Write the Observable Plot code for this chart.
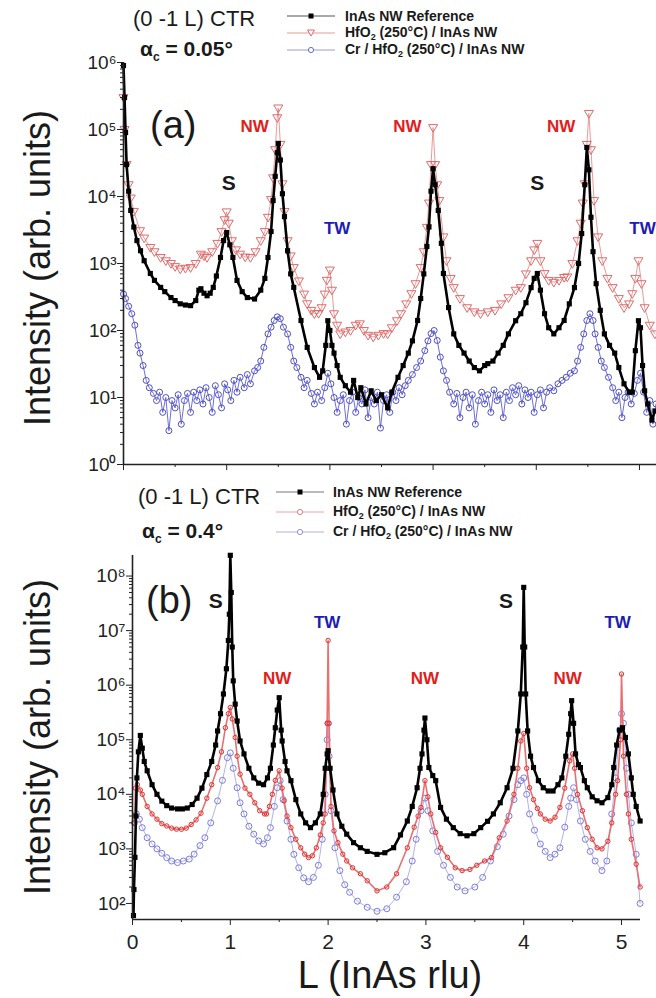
<!DOCTYPE html>
<html><head><meta charset="utf-8">
<script src="https://cdn.jsdelivr.net/npm/d3@7"></script>
<script src="https://cdn.jsdelivr.net/npm/@observablehq/plot@0.6"></script>
<style>
body{margin:0;background:#fff;}
#fig{position:relative;width:656px;height:998px;font-family:"Liberation Sans",Arial,Helvetica,sans-serif;overflow:hidden;background:#fff}
#fig svg{position:absolute;left:0;overflow:visible}
.t{position:absolute;white-space:nowrap;color:#1a1a1a;line-height:1;transform:translateY(-50%)}
.rot{position:absolute;white-space:nowrap;color:#1a1a1a;line-height:1;transform:translate(-50%,-50%) rotate(-90deg)}
.ctr{position:absolute;white-space:nowrap;color:#1a1a1a;line-height:1;transform:translate(-50%,-50%)}
.leg{position:absolute;white-space:nowrap;font-weight:bold;font-size:14px;color:#1a1a1a;line-height:1;transform:translateY(-50%)}
.leg sub{font-size:9px;vertical-align:-3px}
.sw{position:absolute;transform:translateY(-50%)}
</style></head><body><div id="fig"></div>
<script>
// ---------- data: panel (a), alpha_c = 0.05 deg ----------
const a_ref = [[0,9e5],[0.01,3e5],[0.02,9e4],[0.03,3e4],[0.05,1.2e4],[0.07,6200],[0.1,3500],[0.13,2200],[0.165,1550],[0.2,1100],[0.26,710],[0.3,560],[0.36,440],[0.4,380],[0.46,310],[0.5,280],[0.55,250],[0.6,240],[0.65,235],[0.7,280],[0.73,400],[0.75,420],[0.78,360],[0.81,330],[0.84,360],[0.87,440],[0.9,650],[0.94,1230],[0.97,2200],[1.0,2900],[1.03,1900],[1.06,1230],[1.1,560],[1.15,380],[1.2,310],[1.27,295],[1.33,400],[1.37,600],[1.4,1230],[1.43,3000],[1.45,8700],[1.47,2e4],[1.49,4.5e4],[1.5,6.2e4],[1.52,3.5e4],[1.54,1.1e4],[1.56,5000],[1.59,1550],[1.62,700],[1.65,440],[1.72,141],[1.78,56],[1.85,28],[1.9,20],[1.93,25],[1.96,60],[1.98,140],[2.0,100],[2.02,60],[2.04,46],[2.07,30],[2.1,20],[2.15,15],[2.2,12],[2.23,18],[2.27,10],[2.3,14],[2.35,8],[2.4,12.6],[2.45,9],[2.5,11],[2.56,7],[2.6,12],[2.66,20],[2.71,30],[2.76,46],[2.8,70],[2.85,141],[2.88,300],[2.91,700],[2.94,1800],[2.96,3500],[2.98,1.2e4],[3.0,2.6e4],[3.02,1.5e4],[3.05,6200],[3.08,2000],[3.1,710],[3.15,220],[3.2,89],[3.25,60],[3.3,46],[3.35,35],[3.4,28],[3.45,25],[3.5,30],[3.53,32],[3.58,35],[3.63,46],[3.68,60],[3.73,89],[3.8,140],[3.85,178],[3.9,260],[3.95,437],[3.98,600],[4.01,710],[4.04,400],[4.08,178],[4.12,110],[4.17,89],[4.22,110],[4.27,141],[4.32,250],[4.37,437],[4.41,1000],[4.44,2800],[4.47,1.5e4],[4.49,5.4e4],[4.51,2.5e4],[4.53,4900],[4.55,1500],[4.58,500],[4.62,200],[4.66,89],[4.71,60],[4.76,46],[4.8,28],[4.85,16],[4.9,12],[4.93,12],[4.96,50],[4.99,140],[5.01,110],[5.03,30],[5.05,12.6],[5.08,8],[5.12,4.6],[5.15,6.3]];
const a_hfo = [[0,3e5],[0.01,1e5],[0.03,3e4],[0.05,1.5e4],[0.07,9500],[0.1,6000],[0.16,3090],[0.2,2400],[0.26,1740],[0.3,1500],[0.36,1230],[0.41,1100],[0.46,1000],[0.5,900],[0.55,830],[0.6,850],[0.65,870],[0.7,1000],[0.75,1380],[0.78,1300],[0.81,1230],[0.86,1500],[0.91,2000],[0.95,3000],[0.98,4500],[1.0,5900],[1.02,4000],[1.05,2190],[1.09,1600],[1.13,1380],[1.18,1250],[1.23,1230],[1.28,1500],[1.33,2190],[1.37,3000],[1.4,4900],[1.43,9000],[1.45,1.9e4],[1.47,5e4],[1.49,1.5e5],[1.5,2.1e5],[1.52,6e4],[1.54,1.55e4],[1.56,6000],[1.59,2190],[1.62,1300],[1.65,870],[1.7,550],[1.75,350],[1.78,251],[1.82,200],[1.85,178],[1.89,180],[1.92,219],[1.95,350],[1.97,562],[2.0,800],[2.02,400],[2.04,178],[2.07,120],[2.1,89],[2.15,95],[2.2,100],[2.25,120],[2.29,126],[2.33,100],[2.37,85],[2.42,80],[2.47,85],[2.52,90],[2.56,89],[2.6,110],[2.65,140],[2.69,178],[2.74,250],[2.79,355],[2.83,500],[2.88,871],[2.91,1500],[2.94,3470],[2.96,8000],[2.98,3e4],[3.0,1.07e5],[3.02,3e4],[3.04,1.5e4],[3.06,8710],[3.1,2500],[3.13,1100],[3.17,600],[3.2,437],[3.26,300],[3.33,219],[3.4,190],[3.46,178],[3.53,190],[3.6,200],[3.66,250],[3.73,309],[3.8,400],[3.85,437],[3.9,700],[3.95,1100],[3.98,1600],[4.01,2000],[4.04,1100],[4.08,708],[4.12,560],[4.17,525],[4.22,560],[4.27,620],[4.3,631],[4.35,1000],[4.4,2190],[4.43,4000],[4.45,8000],[4.47,1.55e4],[4.49,6e4],[4.51,1.74e5],[4.53,5e4],[4.56,8710],[4.6,2500],[4.64,1100],[4.69,600],[4.74,437],[4.8,300],[4.85,219],[4.9,250],[4.93,355],[4.96,600],[4.99,1100],[5.02,500],[5.05,219],[5.1,120],[5.15,89]];
const a_cr = [[0,350],[0.02,300],[0.05,230],[0.08,178],[0.11,120],[0.14,60],[0.16,46],[0.19,30],[0.22,18],[0.25,14],[0.29,11.5],[0.32,9],[0.35,12],[0.38,6],[0.41,10],[0.44,3.2],[0.47,9],[0.5,7],[0.53,11],[0.56,4],[0.59,9],[0.62,11.5],[0.65,6],[0.68,12],[0.71,9],[0.74,13],[0.77,8],[0.8,14],[0.83,10],[0.86,6],[0.89,15],[0.92,11],[0.95,7],[0.98,16],[1.01,13],[1.04,9],[1.07,18],[1.1,12],[1.13,20],[1.17,14],[1.2,22],[1.23,16],[1.27,25],[1.3,28],[1.33,35],[1.36,56],[1.4,89],[1.43,112],[1.46,141],[1.49,160],[1.52,150],[1.55,112],[1.59,89],[1.62,56],[1.65,35],[1.68,28],[1.72,20],[1.75,14],[1.78,18],[1.82,11.5],[1.85,8],[1.88,12],[1.92,9],[1.95,14],[1.98,23],[2.01,16],[2.04,10],[2.07,6],[2.1,9],[2.13,11],[2.16,4],[2.19,9],[2.22,12],[2.25,6],[2.28,10],[2.31,8],[2.34,13],[2.37,5],[2.4,10],[2.43,8],[2.46,12],[2.49,3.5],[2.52,9],[2.55,11],[2.58,6],[2.61,12],[2.64,9],[2.67,14],[2.7,11],[2.73,15],[2.76,18],[2.8,22],[2.84,28],[2.88,35],[2.92,50],[2.95,70],[2.98,90],[3.01,100],[3.04,71],[3.07,40],[3.1,25],[3.13,18],[3.16,12],[3.2,8],[3.23,11.5],[3.26,5],[3.29,10],[3.32,12],[3.35,7],[3.38,11],[3.41,4],[3.44,9],[3.47,12],[3.5,8],[3.53,11],[3.56,6],[3.59,13],[3.62,9],[3.65,11],[3.68,5],[3.71,12],[3.74,9],[3.77,14],[3.8,11],[3.83,15],[3.86,8],[3.89,13],[3.92,10],[3.95,12],[3.98,6],[4.01,11],[4.04,13],[4.07,7],[4.1,12],[4.13,14],[4.17,12.6],[4.21,16],[4.25,18],[4.29,20],[4.33,23],[4.37,25],[4.4,35],[4.43,56],[4.46,89],[4.49,141],[4.52,178],[4.55,141],[4.57,89],[4.6,56],[4.63,35],[4.66,28],[4.7,20],[4.74,14],[4.77,9],[4.8,12],[4.83,5],[4.86,10],[4.89,12],[4.92,8],[4.95,11.5],[4.98,18],[5.01,23],[5.04,12],[5.07,6],[5.1,9],[5.13,4],[5.16,8]];
// ---------- data: panel (b), alpha_c = 0.4 deg ----------
const b_ref = [[0.01,60],[0.015,180],[0.025,700],[0.035,4000],[0.045,2e4],[0.06,6e4],[0.08,1.2e5],[0.1,7e4],[0.12,4e4],[0.15,2.7e4],[0.2,1.5e4],[0.25,1e4],[0.3,7500],[0.35,6200],[0.4,5600],[0.46,5400],[0.51,5400],[0.56,5600],[0.61,6500],[0.66,8500],[0.71,1.3e4],[0.76,2.3e4],[0.81,4e4],[0.85,8e4],[0.87,1.45e5],[0.9,3e5],[0.93,6.9e5],[0.96,2e6],[0.98,6.6e6],[0.99,2e7],[1.0,2.4e8],[1.01,5e7],[1.02,5e6],[1.03,1.2e6],[1.05,4.5e5],[1.07,2.2e5],[1.1,9.5e4],[1.14,5.5e4],[1.19,3e4],[1.24,2e4],[1.29,1.6e4],[1.34,1.5e4],[1.38,2e4],[1.41,3e4],[1.44,8e4],[1.46,1.66e5],[1.48,3.5e5],[1.5,5.9e5],[1.52,1.5e5],[1.53,9.5e4],[1.56,4e4],[1.58,2.7e4],[1.62,1.78e4],[1.67,8000],[1.72,4370],[1.77,3000],[1.82,2450],[1.87,3000],[1.92,4370],[1.95,1e4],[1.97,3e4],[1.99,5.5e4],[2.0,6.3e4],[2.02,3e4],[2.05,1.2e4],[2.09,4370],[2.14,2600],[2.19,1860],[2.26,1300],[2.33,1050],[2.4,900],[2.5,794],[2.58,850],[2.67,1050],[2.74,1800],[2.81,3240],[2.86,6000],[2.91,1.32e4],[2.94,3e4],[2.96,5.5e4],[2.98,1.5e5],[2.99,2.5e5],[3.01,1e5],[3.03,3.1e4],[3.07,2.2e4],[3.1,1.78e4],[3.15,5750],[3.21,3500],[3.28,2450],[3.35,1900],[3.42,1740],[3.49,1900],[3.56,2450],[3.63,3200],[3.69,4370],[3.76,7000],[3.83,1.32e4],[3.89,3e4],[3.94,1.45e5],[3.97,6.9e5],[3.99,5e6],[4.0,6.2e7],[4.01,5e6],[4.02,6.9e5],[4.04,1.45e5],[4.07,5e4],[4.1,3.1e4],[4.15,1.78e4],[4.2,1.32e4],[4.25,1.15e4],[4.3,1.15e4],[4.35,1.5e4],[4.39,2e4],[4.43,5e4],[4.46,1.26e5],[4.48,3e5],[4.49,5.2e5],[4.51,2e5],[4.53,5.5e4],[4.56,3.5e4],[4.58,3.1e4],[4.62,1.78e4],[4.65,1.32e4],[4.7,9000],[4.75,7600],[4.8,7000],[4.86,8700],[4.9,1.5e4],[4.92,3.1e4],[4.95,8e4],[4.98,1.5e5],[5.01,1.66e5],[5.04,1.1e5],[5.07,5.5e4],[5.1,2e4],[5.12,1e4],[5.15,6000],[5.19,3240]];
const b_hfo = [[0.02,3000],[0.03,1.3e4],[0.05,1.5e4],[0.08,1.2e4],[0.1,1e4],[0.15,6000],[0.2,4370],[0.25,3500],[0.3,2900],[0.35,2630],[0.4,2400],[0.45,2300],[0.5,2290],[0.55,2400],[0.6,2800],[0.65,3400],[0.7,4500],[0.76,8500],[0.81,1.5e4],[0.87,3.1e4],[0.91,6e4],[0.95,1.66e5],[0.98,3e5],[1.0,3.9e5],[1.02,2.4e5],[1.05,1.1e5],[1.07,5e4],[1.1,2.34e4],[1.15,1.3e4],[1.2,1e4],[1.25,7000],[1.3,5010],[1.35,4370],[1.37,4370],[1.4,6000],[1.43,1e4],[1.46,1.8e4],[1.5,2.7e4],[1.53,1.3e4],[1.55,7590],[1.58,4000],[1.62,2450],[1.67,1500],[1.72,1047],[1.76,800],[1.8,692],[1.84,750],[1.88,1047],[1.92,1800],[1.95,3000],[1.97,4370],[1.99,2e5],[2.0,6.6e6],[2.01,2e5],[2.03,6000],[2.06,2140],[2.1,1300],[2.15,800],[2.19,600],[2.25,450],[2.33,350],[2.4,260],[2.5,170],[2.6,200],[2.7,350],[2.81,1047],[2.88,2500],[2.92,4000],[2.95,5750],[2.99,1.78e4],[3.02,9000],[3.05,4370],[3.1,2000],[3.15,1047],[3.22,700],[3.3,450],[3.37,400],[3.45,420],[3.52,500],[3.6,600],[3.67,692],[3.75,1600],[3.83,3240],[3.9,1e4],[3.94,3e4],[3.97,9.5e4],[4.0,1.3e5],[4.03,3e4],[4.06,1.32e4],[4.1,8000],[4.14,5500],[4.17,4370],[4.22,3500],[4.27,3240],[4.32,3800],[4.37,5750],[4.42,1.3e4],[4.47,4.1e4],[4.5,5.5e4],[4.52,3e4],[4.55,1e4],[4.6,5000],[4.65,2450],[4.7,1500],[4.75,1047],[4.8,1000],[4.86,1380],[4.9,3000],[4.94,1e4],[4.96,1.78e4],[4.99,1e5],[5.0,1.6e6],[5.02,5e4],[5.05,1e4],[5.07,4370],[5.1,1500],[5.15,525],[5.19,200]];
const b_cr = [[0.02,3000],[0.04,4370],[0.07,3500],[0.1,2450],[0.15,1600],[0.2,1230],[0.25,1000],[0.3,830],[0.35,690],[0.4,600],[0.46,560],[0.52,600],[0.58,650],[0.63,800],[0.69,1150],[0.74,1600],[0.8,3000],[0.87,7590],[0.92,1.8e4],[0.97,4.7e4],[1.0,5.75e4],[1.03,3e4],[1.07,1.32e4],[1.1,7000],[1.14,4370],[1.19,2600],[1.24,1860],[1.29,1400],[1.34,1230],[1.38,1600],[1.41,2450],[1.45,6000],[1.48,1.32e4],[1.51,1.78e4],[1.54,8000],[1.58,3240],[1.62,1500],[1.65,794],[1.7,450],[1.75,295],[1.8,250],[1.85,300],[1.9,500],[1.94,1500],[1.97,1e4],[1.99,1e5],[2.0,2e5],[2.01,5e4],[2.03,5000],[2.07,1047],[2.12,400],[2.17,220],[2.22,160],[2.3,110],[2.4,85],[2.5,72],[2.6,80],[2.7,130],[2.8,250],[2.86,600],[2.9,1500],[2.95,5000],[2.99,8500],[3.02,5000],[3.07,2140],[3.12,900],[3.18,500],[3.25,300],[3.32,200],[3.4,170],[3.5,200],[3.58,300],[3.66,600],[3.73,1100],[3.79,1860],[3.85,4000],[3.9,8000],[3.94,1.5e4],[3.97,1.78e4],[4.0,2e4],[4.03,1e4],[4.06,4370],[4.11,2200],[4.17,1230],[4.22,900],[4.27,692],[4.32,800],[4.37,1047],[4.42,2500],[4.46,6000],[4.48,8510],[4.51,1.32e4],[4.54,8000],[4.58,3240],[4.63,1500],[4.68,900],[4.73,600],[4.8,400],[4.85,600],[4.9,4370],[4.94,2e4],[4.98,1.5e5],[5.0,3e5],[5.02,2e5],[5.05,3e4],[5.07,1e4],[5.1,3000],[5.15,794],[5.19,100]];
// ---------- peak labels ----------
const a_peaks = [["NW",1.27,1.1e5],["S",1.02,1.6e4],["TW",2.07,3300],["NW",2.75,1.1e5],["S",4.01,1.6e4],["NW",4.24,1.1e5],["TW",5.03,3300]];
const b_peaks = [["S",0.85,3.5e7],["NW",1.48,1.3e6],["TW",1.99,1.4e7],["NW",2.99,1.3e6],["S",3.82,3.5e7],["NW",4.45,1.3e6],["TW",4.96,1.4e7]];
const peakColors = {NW:"#e0201c", S:"#1a1a1a", TW:"#1c1cb4"};
// ---------- axis ticks ----------
const a_decades = [0,1,2,3,4,5,6];
const b_decades = [2,3,4,5,6,7,8];
const xMajor = [0,1,2,3,4,5];
const xMinor = [0.5,1.5,2.5,3.5,4.5];
const legendLabels = ["InAs NW Reference","HfO<sub>2</sub> (250°C) / InAs NW","Cr / HfO<sub>2</sub> (250°C) / InAs NW"];

const supDigits = "⁰¹²³⁴⁵⁶⁷⁸⁹";
const pow10 = v => { const e = Math.round(Math.log10(v)); return "10" + String(e).split("").map(c => supDigits[+c]).join(""); };
const triDown = {draw(ctx, size){ const s = Math.sqrt(size) * 0.75; ctx.moveTo(-s, -s*0.65); ctx.lineTo(s, -s*0.65); ctx.lineTo(0, s*1.05); ctx.closePath(); }};

function minors(decs){ const out=[]; for (let i=0;i<decs.length-1;i++) for (let k=2;k<10;k++) out.push(k*10**decs[i]); return out; }

function panel(o){
  const style = {
    ref: {stroke:"#000", sw:2.6, sym:"square", fill:"#000", dstroke:"none", r:2.9},
    hfo: {stroke:o.hfoLine, sw:o.hfoW, sym:o.hfoSym, fill:"none", dstroke:o.hfoDot, r:o.hfoR},
    cr:  {stroke:o.crLine, sw:0.9, sym:"circle", fill:"none", dstroke:o.crDot, r:o.crR}
  };
  const marks = [];
  for (const key of ["cr","hfo","ref"]) {
    const s = style[key], d = o.series[key];
    marks.push(Plot.line(d, {x:d=>d[0], y:d=>d[1], stroke:s.stroke, strokeWidth:s.sw}));
    marks.push(Plot.dot(d, {x:d=>d[0], y:d=>d[1], symbol:s.sym, r:s.r, fill:s.fill, stroke:s.dstroke, strokeWidth:1}));
  }
  marks.push(
    Plot.axisY(minors(o.decades), {tickSize:3, tickFormat:()=>"", label:null, stroke:"#222"}),
    Plot.axisY(o.decades.map(e=>10**e), {tickSize:6, tickPadding:1, tickFormat:pow10, label:null, fontSize:19, stroke:"#222", fill:"#222"}),
    Plot.axisX(xMinor, {tickSize:3, tickFormat:()=>"", label:null, stroke:"#222"}),
    Plot.axisX(xMajor, {tickSize:6, tickPadding:o.xPad, tickFormat:o.xLabels ? (d=>String(d)) : (()=>""), label:null, fontSize:21, stroke:"#222", fill:"#222"}),
    Plot.ruleY([o.ydom[0]], {stroke:"#222", strokeWidth:1.6}),
    Plot.ruleX([0], {stroke:"#222", strokeWidth:1.6}),
    Plot.text(o.peaks, {x:d=>d[1], y:d=>d[2], text:d=>d[0], fill:d=>peakColors[d[0]], fontWeight:"bold", fontSize:d=>d[0]==="S"?21:17, fontFamily:"Liberation Sans, Arial, sans-serif"})
  );
  const svg = Plot.plot({
    width:656, height:o.height,
    marginTop:o.mt, marginBottom:o.mb, marginLeft:o.ml, marginRight:o.mr,
    x:{domain:o.xdom, label:null},
    y:{type:"log", domain:o.ydom, label:null},
    style:{fontFamily:"Liberation Sans, Arial, sans-serif", background:"transparent", overflow:"visible"},
    marks
  });
  svg.style.top = o.top + "px";
  return svg;
}

const fig = document.getElementById("fig");
fig.appendChild(panel({top:0, height:490, mt:62, mb:26, ml:123, mr:0, xdom:[0,5.165], ydom:[1,1e6], decades:a_decades, xLabels:false, xPad:3,
  series:{ref:a_ref, hfo:a_hfo, cr:a_cr}, peaks:a_peaks,
  hfoLine:"#eb9a9a", hfoW:1, hfoDot:"#e06a6a", hfoSym:triDown, hfoR:3.4, crLine:"#5c5cd2", crDot:"#5050c4", crR:3}));
fig.appendChild(panel({top:490, height:508, mt:65, mb:79, ml:132, mr:16, xdom:[0,5.194], ydom:[50.8,2.38e8], decades:b_decades, xLabels:true, xPad:9,
  series:{ref:b_ref, hfo:b_hfo, cr:b_cr}, peaks:b_peaks,
  hfoLine:"#e87070", hfoW:1.6, hfoDot:"#e03030", hfoSym:"circle", hfoR:2.2, crLine:"#a8a8ec", crDot:"#7c7cdc", crR:3}));

function addText(cls, html, x, y, css){ const d=document.createElement("div"); d.className=cls; d.innerHTML=html; d.style.left=x+"px"; d.style.top=y+"px"; Object.assign(d.style, css||{}); fig.appendChild(d); return d; }

// axis titles
addText("rot","Intensity (arb. units)",38,268,{fontSize:"36px",color:"#1a1a1a"});
addText("rot","Intensity (arb. units)",38,737,{fontSize:"36px",color:"#1a1a1a"});
addText("ctr","L (InAs rlu)",390,975,{fontSize:"38px",color:"#1a1a1a"});

// panel annotations
addText("t","(0 -1 L) CTR",133,19,{fontSize:"22px"});
addText("t","α<sub style='font-size:12px;vertical-align:-5px'>c</sub> = 0.05°",140,50,{fontSize:"21px",fontWeight:"bold"});
addText("t","(a)",150,125,{fontSize:"38px"});
addText("t","(0 -1 L) CTR",138,497,{fontSize:"22px"});
addText("t","α<sub style='font-size:12px;vertical-align:-5px'>c</sub> = 0.4°",142,532,{fontSize:"21px",fontWeight:"bold"});
addText("t","(b)",146,600,{fontSize:"38px"});

// legends
function swatch(x, y, w, line, kind, col){
  const ns="http://www.w3.org/2000/svg";
  const s=document.createElementNS(ns,"svg"); s.setAttribute("width",w); s.setAttribute("height",12); s.setAttribute("class","sw"); s.style.left=x+"px"; s.style.top=y+"px";
  let h=`<line x1="0" y1="6" x2="${w}" y2="6" stroke="${line}" stroke-width="1.2"/>`;
  const c=w/2;
  if(kind==="sq") h+=`<rect x="${c-2.5}" y="3.5" width="5" height="5" fill="#000"/>`;
  if(kind==="tri") h+=`<path d="M${c-3.5},3 L${c+3.5},3 L${c},9 Z" fill="#fff" stroke="${col}" stroke-width="1"/>`;
  if(kind==="circ") h+=`<circle cx="${c}" cy="6" r="2.6" fill="#fff" stroke="${col}" stroke-width="1"/>`;
  s.innerHTML=h; fig.appendChild(s);
}
const legA = [[16,"#555","sq","#000"],[33,"#e89a9a","tri","#e06a6a"],[50,"#9a9ad8","circ","#6a6ad0"]];
legA.forEach((r,i)=>{ swatch(287, r[0], 48, r[1], r[2], r[3]); addText("leg", legendLabels[i], 345, r[0]); });
const legB = [[492,"#777","sq","#000"],[512,"#e8a8a8","circ","#e08080"],[532,"#b0b0e0","circ","#9090d8"]];
legB.forEach((r,i)=>{ swatch(276, r[0], 48, r[1], r[2], r[3]); addText("leg", legendLabels[i], 333, r[0]); });
</script></body></html>
